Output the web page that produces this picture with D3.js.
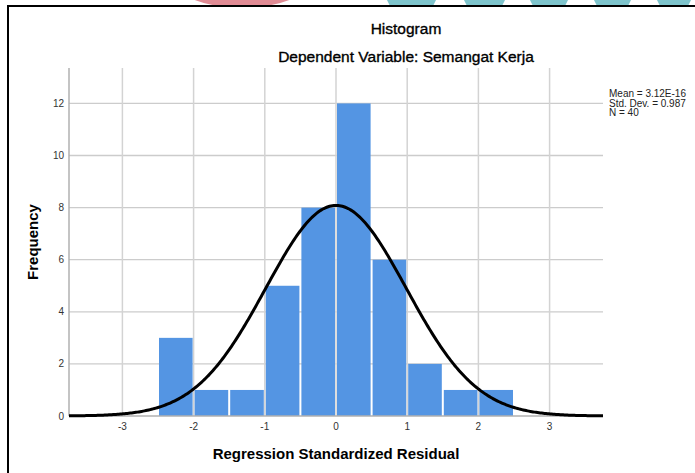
<!DOCTYPE html>
<html>
<head>
<meta charset="utf-8">
<script src="https://cdn.jsdelivr.net/npm/d3@7"></script>
<style>
  body { margin: 0; background: #fff; }
  svg { display: block; font-family: "Liberation Sans", Arial, sans-serif; }
</style>
</head>
<body>
<div id="chart"></div>
<script>
// histogram bins (lower edge) and frequencies
var binStarts = [-2.5, -2, -1.5, -1, -0.5, 0, 0.5, 1, 1.5, 2];
var binWidth = 0.5;
var counts = [3, 1, 1, 5, 8, 12, 6, 2, 1, 1];

var xTicks = [-3, -2, -1, 0, 1, 2, 3];
var yTicks = [0, 2, 4, 6, 8, 10, 12];

var meanVal = 3.12e-16, sdVal = 0.987, nVal = 40;
var statLines = ["Mean = 3.12E-16", "Std. Dev. = 0.987", "N = 40"];

var W = 695, H = 473;
var plot = {left: 69, right: 603, top: 68, bottom: 416};

var svg = d3.select("#chart").append("svg")
    .attr("width", W).attr("height", H);

// decorative background bits peeking above the frame
svg.append("ellipse").attr("cx", 242).attr("cy", -30).attr("rx", 77).attr("ry", 38).attr("fill", "#e08b94");
[[390, 433], [467, 502], [533, 565], [597, 628], [660, 688]].forEach(function(s) {
  svg.append("path")
    .attr("d", "M" + (s[0] - 4) + ",-2 L" + (s[1] + 4) + ",-2 L" + s[1] + ",6 L" + s[0] + ",6 Z")
    .attr("fill", "#7ec4cc");
});
svg.append("rect").attr("x", 8).attr("y", 6).attr("width", W).attr("height", H)
    .attr("fill", "#fff").attr("stroke", "#000").attr("stroke-width", 2);

var x = d3.scaleLinear().domain([-3.75, 3.75]).range([plot.left, plot.right]);
var y = d3.scaleLinear().domain([0, 13.36]).range([plot.bottom, plot.top]);

var g = svg.append("g");

// grid
g.selectAll(".hgrid").data(yTicks.slice(1)).enter().append("line")
    .attr("x1", plot.left).attr("x2", plot.right)
    .attr("y1", function(d) { return y(d); }).attr("y2", function(d) { return y(d); })
    .attr("stroke", "#cccccc").attr("stroke-width", 1.3);
g.selectAll(".vgrid").data(xTicks).enter().append("line")
    .attr("y1", plot.top).attr("y2", plot.bottom)
    .attr("x1", function(d) { return x(d); }).attr("x2", function(d) { return x(d); })
    .attr("stroke", "#d3d3d3").attr("stroke-width", 1.5);

// bars
g.selectAll(".bar").data(counts).enter().append("rect")
    .attr("x", function(d, i) { return x(binStarts[i]) + 1; })
    .attr("width", function(d, i) { return x(binStarts[i] + binWidth) - x(binStarts[i]) - 2; })
    .attr("y", function(d) { return y(d); })
    .attr("height", function(d) { return y(0) - y(d); })
    .attr("fill", "#5495e3");

// axes lines
g.append("line").attr("x1", plot.left).attr("x2", plot.left).attr("y1", plot.top).attr("y2", plot.bottom)
    .attr("stroke", "#b0b0b0").attr("stroke-width", 1.5);
g.append("line").attr("x1", plot.left).attr("x2", plot.right).attr("y1", plot.bottom).attr("y2", plot.bottom)
    .attr("stroke", "#b0b0b0").attr("stroke-width", 1.5);

// normal curve
var pts = d3.range(-3.75, 3.7501, 0.02).map(function(v) {
  var z = (v - meanVal) / sdVal;
  return [v, nVal * binWidth * Math.exp(-0.5 * z * z) / (sdVal * Math.sqrt(2 * Math.PI))];
});
g.append("path").datum(pts)
    .attr("fill", "none").attr("stroke", "#000").attr("stroke-width", 3)
    .attr("d", d3.line().x(function(d) { return x(d[0]); }).y(function(d) { return y(d[1]); }));

// tick labels
g.selectAll(".ylab").data(yTicks).enter().append("text")
    .attr("x", plot.left - 5).attr("y", function(d) { return y(d) + 3.5; })
    .attr("text-anchor", "end").attr("font-size", 10).attr("fill", "#333")
    .text(function(d) { return d; });
g.selectAll(".xlab").data(xTicks).enter().append("text")
    .attr("x", function(d) { return x(d); }).attr("y", 430)
    .attr("text-anchor", "middle").attr("font-size", 10).attr("fill", "#333")
    .text(function(d) { return d; });

// titles
svg.append("text").attr("x", 406).attr("y", 34).attr("text-anchor", "middle")
    .attr("font-size", 15.5).attr("fill", "#000").attr("stroke", "#000").attr("stroke-width", 0.35)
    .text("Histogram");
svg.append("text").attr("x", 406).attr("y", 62).attr("text-anchor", "middle")
    .attr("font-size", 15.5).attr("fill", "#000").attr("stroke", "#000").attr("stroke-width", 0.35)
    .text("Dependent Variable: Semangat Kerja");
svg.append("text").attr("x", 336).attr("y", 459).attr("text-anchor", "middle")
    .attr("font-size", 15).attr("font-weight", "bold")
    .text("Regression Standardized Residual");
svg.append("text").attr("transform", "translate(38,242) rotate(-90)").attr("text-anchor", "middle")
    .attr("font-size", 15).attr("font-weight", "bold")
    .text("Frequency");

// stats box
svg.append("g").selectAll("text").data(statLines).enter().append("text")
    .attr("x", 609).attr("y", function(d, i) { return 97 + i * 9.7; })
    .attr("font-size", 10).attr("fill", "#222")
    .text(function(d) { return d; });
</script>
</body>
</html>
